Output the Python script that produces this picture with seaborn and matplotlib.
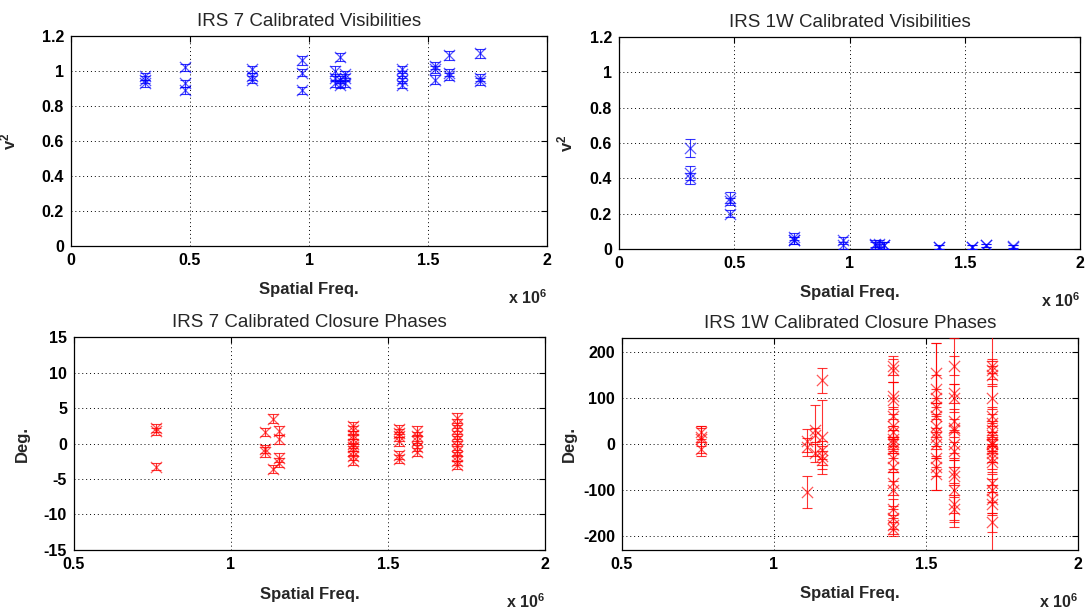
import numpy as np
import pandas as pd
import seaborn as sns
import matplotlib
matplotlib.use('Agg')
import matplotlib.pyplot as plt

# spatial frequencies are in units of 1e6

# IRS 7 visibilities
irs7_v2_freq = [0.31, 0.31, 0.31, 0.48, 0.48, 0.48, 0.76, 0.76, 0.76,
                0.97, 0.97, 0.97, 1.11, 1.11, 1.11, 1.13, 1.13, 1.13,
                1.15, 1.15, 1.15, 1.39, 1.39, 1.39, 1.39, 1.53, 1.53, 1.53,
                1.59, 1.59, 1.59, 1.72, 1.72, 1.72]
irs7_v2 = [0.97, 0.95, 0.93, 1.02, 0.93, 0.89, 1.01, 0.97, 0.95,
           1.06, 0.99, 0.89, 1.00, 0.96, 0.93, 1.08, 0.95, 0.92,
           0.98, 0.96, 0.93, 1.01, 0.98, 0.95, 0.92, 1.03, 1.01, 0.95,
           1.09, 0.99, 0.97, 1.10, 0.96, 0.94]
irs7_v2_err = [0.02, 0.02, 0.02, 0.02, 0.02, 0.02, 0.02, 0.02, 0.02,
               0.025, 0.02, 0.02, 0.03, 0.02, 0.02, 0.025, 0.02, 0.02,
               0.02, 0.02, 0.02, 0.02, 0.02, 0.02, 0.02, 0.02, 0.02, 0.025,
               0.025, 0.02, 0.02, 0.025, 0.02, 0.02]

# IRS 1W visibilities
irs1w_v2_freq = [0.31, 0.31, 0.31, 0.48, 0.48, 0.48, 0.76, 0.76, 0.76,
                 0.97, 0.97, 1.11, 1.11, 1.13, 1.13, 1.15, 1.15,
                 1.39, 1.39, 1.53, 1.53, 1.59, 1.59, 1.71, 1.71]
irs1w_v2 = [0.57, 0.43, 0.40, 0.29, 0.27, 0.20, 0.07, 0.05, 0.05,
            0.05, 0.02, 0.03, 0.02, 0.03, 0.01, 0.02, 0.02,
            0.01, 0.01, 0.01, 0.01, 0.02, 0.02, 0.01, 0.015]
irs1w_v2_err = [0.05, 0.04, 0.03, 0.03, 0.02, 0.02, 0.02, 0.02, 0.02,
                0.02, 0.02, 0.02, 0.02, 0.02, 0.02, 0.02, 0.02,
                0.01, 0.01, 0.01, 0.01, 0.01, 0.01, 0.01, 0.01]

# IRS 7 closure phases
irs7_cp_freq = [0.76, 0.76, 0.76, 1.11, 1.11, 1.11, 1.135, 1.135,
                1.153, 1.153, 1.153, 1.153,
                1.39, 1.39, 1.39, 1.39, 1.39, 1.39, 1.39, 1.39, 1.39,
                1.535, 1.535, 1.535, 1.535, 1.535, 1.535,
                1.594, 1.594, 1.594, 1.594, 1.594,
                1.72, 1.72, 1.72, 1.72, 1.72, 1.72, 1.72, 1.72, 1.72, 1.72]
irs7_cp = [2.2, 1.7, -3.3, 1.6, -0.8, -1.2, 3.5, -3.6,
           1.8, 0.6, -2.0, -2.7,
           2.4, 1.9, 1.2, 0.6, 0.0, -0.5, -1.0, -1.7, -2.4,
           2.0, 1.5, 1.0, 0.3, -1.6, -2.2,
           1.8, 1.0, 0.4, -0.5, -1.2,
           3.6, 2.8, 2.0, 1.2, 0.5, -0.3, -1.0, -1.8, -2.4, -3.0]
irs7_cp_err = [0.6, 0.5, 0.5, 0.6, 0.6, 0.7, 0.6, 0.6,
               0.6, 0.6, 0.6, 0.6,
               0.6, 0.6, 0.6, 0.6, 0.6, 0.6, 0.6, 0.6, 0.6,
               0.6, 0.6, 0.6, 0.6, 0.6, 0.6,
               0.6, 0.6, 0.6, 0.6, 0.6,
               0.7, 0.6, 0.6, 0.6, 0.6, 0.6, 0.6, 0.6, 0.6, 0.6]

# IRS 1W closure phases
irs1w_cp_freq = ([0.76] * 4 + [1.11] * 3 + [1.135] * 3 + [1.157] * 5
                 + [1.392] * 19 + [1.532] * 12 + [1.593] * 13 + [1.716] * 20)
irs1w_cp = [25, 15, 10, -10,
            7, -6, -104,
            30, 20, -20,
            138, 15, -13, -25, -35,
            170, 160, 105, 95, 60, 40, 25, 10, 5, 0, -10, -30, -50, -85, -100, -140, -160, -175, -185,
            155, 120, 100, 80, 60, 40, 25, 15, 0, -30, -50, -65,
            170, 110, 100, 50, 35, 30, 0, -15, -60, -70, -100, -130, -140,
            170, 160, 150, 100, 60, 45, 30, 20, 5, 0, 0, -10, -20, -30, -40, -85, -100, -120, -130, -170]
irs1w_cp_err = [15, 20, 30, 15,
                25, 20, 35,
                55, 15, 20,
                27, 80, 20, 20, 20,
                20, 25, 30, 40, 20, 25, 15, 20, 25, 15, 20, 25, 30, 25, 40, 20, 25, 20, 15,
                65, 30, 20, 20, 160, 25, 30, 20, 25, 20, 20, 35,
                20, 20, 30, 25, 20, 200, 30, 20, 25, 20, 80, 20, 25,
                15, 20, 20, 25, 20, 20, 20, 25, 20, 15, 300, 30, 20, 25, 20, 20, 25, 30, 25, 20]

sns.set_style('white')
plt.rcParams['font.family'] = ['Liberation Sans', 'DejaVu Sans']
plt.rcParams['mathtext.default'] = 'regular'

fig = plt.figure(figsize=(10.86, 6.10), dpi=100)
ax_tl = fig.add_axes([0.0654, 0.5967, 0.4383, 0.3443])
ax_tr = fig.add_axes([0.570, 0.5918, 0.4245, 0.3475])
ax_bl = fig.add_axes([0.0681, 0.0984, 0.4337, 0.349])
ax_br = fig.add_axes([0.5727, 0.0984, 0.42, 0.3475])


def draw(ax, freq, val, err, color, title, ylabel, xlim, ylim, yticks, ylab_x):
    d = pd.DataFrame({'freq': freq, 'val': val, 'err': err})
    ax.errorbar(d['freq'], d['val'], yerr=d['err'], fmt='none', ecolor=color,
                elinewidth=0.8, capsize=3.5, capthick=0.8, alpha=0.8, zorder=3)
    sns.scatterplot(data=d, x='freq', y='val', marker='x', color=color, s=65,
                    linewidth=0.9, alpha=0.65, ax=ax, zorder=4)
    ax.set_xlim(*xlim)
    ax.set_ylim(*ylim)
    xt = np.arange(xlim[0], xlim[1] + 0.01, 0.5)
    ax.set_xticks(xt)
    ax.set_xticklabels(['%g' % t for t in xt])
    ax.set_yticks(yticks)
    ax.set_yticklabels(['%g' % t for t in yticks])
    ax.grid(True, linestyle=(0, (1, 3)), color='black', linewidth=0.7)
    ax.tick_params(direction='in', length=4, top=True, right=True,
                   labelsize=11.5, pad=5, colors='black')
    for lab in ax.get_xticklabels() + ax.get_yticklabels():
        lab.set_fontweight('bold')
    for sp in ax.spines.values():
        sp.set_color('black')
        sp.set_linewidth(0.9)
    ax.set_title(title, fontsize=13.5, pad=7)
    ax.set_xlabel('Spatial Freq.', fontsize=12, fontweight='bold')
    ax.xaxis.set_label_coords(0.5, -0.172)
    ax.set_ylabel(ylabel, fontsize=12, fontweight='bold')
    ax.yaxis.set_label_coords(ylab_x, 0.5)
    ax.text(1.0, -0.2, r'x 10$^{6}$', transform=ax.transAxes, ha='right',
            va='top', fontsize=11.5, fontweight='bold')


draw(ax_tl, irs7_v2_freq, irs7_v2, irs7_v2_err, 'blue',
     'IRS 7 Calibrated Visibilities', r'v$^2$', (0, 2), (0, 1.2),
     [0, 0.2, 0.4, 0.6, 0.8, 1, 1.2], -0.111)
draw(ax_tr, irs1w_v2_freq, irs1w_v2, irs1w_v2_err, 'blue',
     'IRS 1W Calibrated Visibilities', r'v$^2$', (0, 2), (0, 1.2),
     [0, 0.2, 0.4, 0.6, 0.8, 1, 1.2], -0.095)
draw(ax_bl, irs7_cp_freq, irs7_cp, irs7_cp_err, 'red',
     'IRS 7 Calibrated Closure Phases', 'Deg.', (0.5, 2), (-15, 15),
     [-15, -10, -5, 0, 5, 10, 15], -0.093)
draw(ax_br, irs1w_cp_freq, irs1w_cp, irs1w_cp_err, 'red',
     'IRS 1W Calibrated Closure Phases', 'Deg.', (0.5, 2), (-230, 230),
     [-200, -100, 0, 100, 200], -0.099)

fig.savefig('out.png', dpi=100)
